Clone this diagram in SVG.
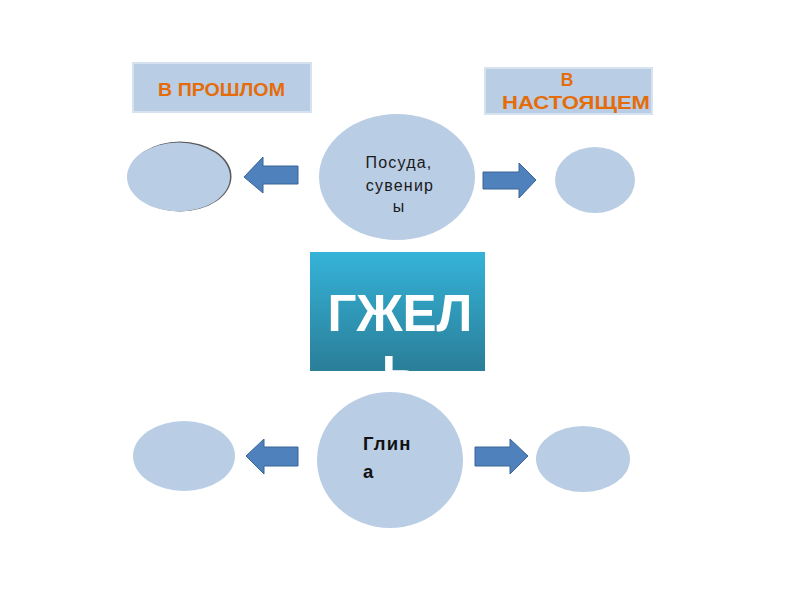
<svg xmlns="http://www.w3.org/2000/svg" width="800" height="600" viewBox="0 0 800 600">
<defs>
<linearGradient id="gz" x1="0" y1="0" x2="0" y2="1">
<stop offset="0" stop-color="#35B3D8"/>
<stop offset="1" stop-color="#2A7E98"/>
</linearGradient>
<style>
.lbl{fill:#B9CDE5;stroke:#D6E2F0;stroke-width:2}
.ltx{font-family:"Liberation Sans",Arial,sans-serif;font-weight:bold;font-size:17.5px;fill:#E46C0A}
.ell{fill:#B9CDE5}
.arr{fill:#4F81BD;stroke:#3A6496;stroke-width:1}
.ctx{font-family:"Liberation Sans",Arial,sans-serif;font-size:16px;fill:#1a1a1a;letter-spacing:1.2px}
.gtx{font-family:"Liberation Sans",Arial,sans-serif;font-weight:bold;font-size:18.5px;fill:#111;letter-spacing:1.2px}
</style>
</defs>
<rect width="800" height="600" fill="#FFFFFF"/>

<g id="past">
<rect class="lbl" x="133" y="63" width="178" height="49"/>
<text class="ltx" x="158" y="96" textLength="127" lengthAdjust="spacingAndGlyphs">В ПРОШЛОМ</text>
</g>
<g id="present">
<rect class="lbl" x="485" y="68" width="167" height="46"/>
<text class="ltx" x="567" y="86" text-anchor="middle">В</text>
<text class="ltx" x="502" y="109" textLength="148" lengthAdjust="spacingAndGlyphs">НАСТОЯЩЕМ</text>
</g>

<g id="top-center">
<ellipse class="ell" cx="397" cy="177" rx="78" ry="63"/>
<text class="ctx" x="399" y="168" text-anchor="middle">Посуда,</text>
<text class="ctx" x="400" y="191" text-anchor="middle">сувенир</text>
<text class="ctx" x="399" y="212" text-anchor="middle">ы</text>
</g>
<g id="top-left">
<ellipse cx="180" cy="176.5" rx="51.5" ry="35" fill="#5a5a5a"/>
<ellipse class="ell" cx="178.5" cy="177" rx="51.5" ry="34.5"/>
</g>
<g id="top-right">
<ellipse class="ell" cx="595" cy="180" rx="40" ry="33"/>
</g>

<g id="bottom-center">
<ellipse class="ell" cx="390" cy="460" rx="73" ry="68"/>
<text class="gtx" x="363" y="450">Глин</text>
<text class="gtx" x="363" y="478">а</text>
</g>
<g id="bottom-left">
<ellipse class="ell" cx="184" cy="456" rx="51" ry="35"/>
</g>
<g id="bottom-right">
<ellipse class="ell" cx="583" cy="459" rx="47" ry="33"/>
</g>

<g id="gzhel">
<rect x="310" y="252" width="175" height="119" fill="url(#gz)"/>
<text x="400" y="331" text-anchor="middle" font-family="Liberation Sans, Arial, sans-serif" font-weight="bold" font-size="51" fill="#FFFFFF">ГЖЕЛ</text>
<text x="400" y="392" text-anchor="middle" font-family="Liberation Sans, Arial, sans-serif" font-weight="bold" font-size="51" fill="#FFFFFF">Ь</text>
</g>

<g id="connectors">
<polygon class="arr" points="298,166 263,166 263,157 244,177 263,193 263,184 298,184"/>
<polygon class="arr" points="483,172 519,172 519,163 536,180 519,198 519,189 483,189"/>
<polygon class="arr" points="298,447 264,447 264,439 246,456 264,474 264,466 298,466"/>
<polygon class="arr" points="475,447 510,447 510,439 528,456 510,474 510,466 475,466"/>
</g>
</svg>
